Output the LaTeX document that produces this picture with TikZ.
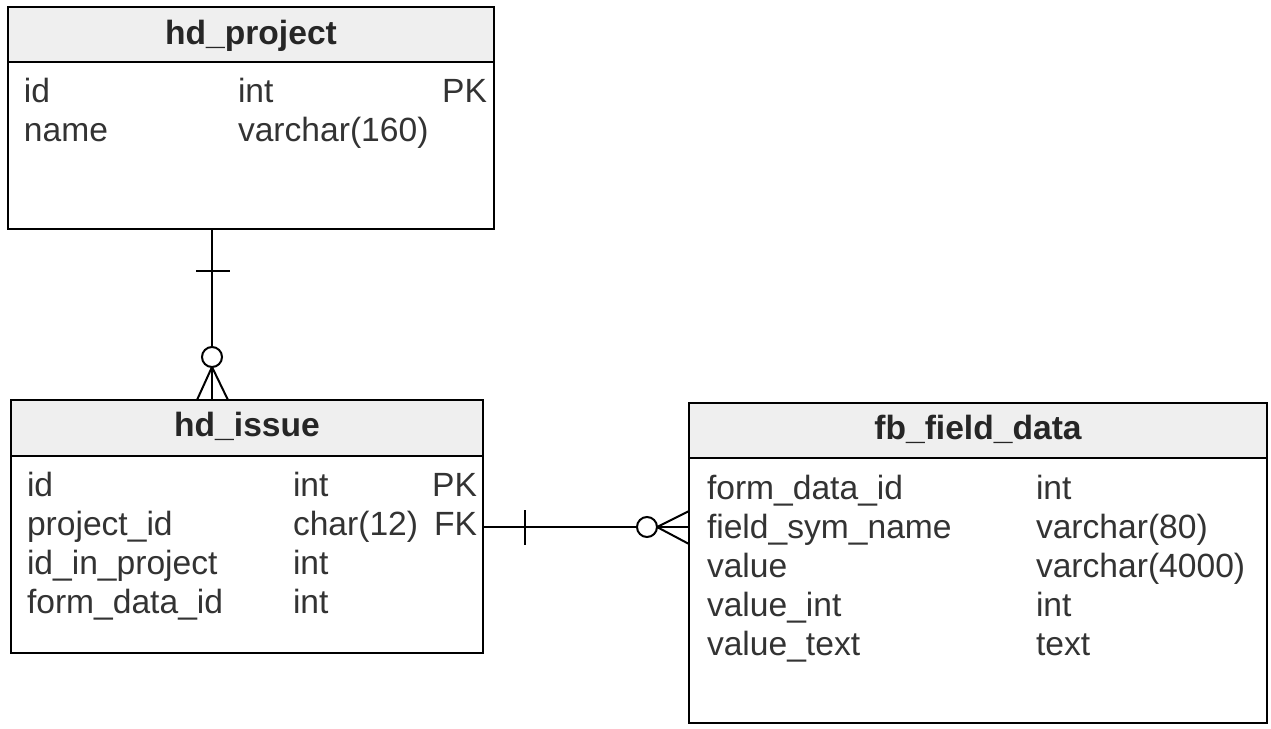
\documentclass[tikz,border=0pt]{standalone}
\usepackage{fontspec}
\setmainfont{Liberation Sans}
\usetikzlibrary{calc}
\definecolor{hdgray}{HTML}{EFEFEF}
\definecolor{txtgray}{HTML}{333333}
\newcommand{\tabfont}{\fontsize{16.8}{20}\selectfont}

\begin{document}
\begin{tikzpicture}[x = 0.5pt, y = -0.5pt, line width = 1pt,
  tbl/.style = {draw, anchor = north west, inner sep = 0pt, outer sep = 0pt},
  hdr/.style = {font = \tabfont\bfseries, text = black!85, anchor = base, inner sep = 0pt},
  fld/.style = {font = \tabfont, text = txtgray, anchor = base west, inner sep = 0pt},
  key/.style = {font = \tabfont, text = txtgray, anchor = base east, inner sep = 0pt}]

\useasboundingbox (0,0) rectangle (1271,729);

% hd_project
\node[tbl, minimum width = 243pt, minimum height = 111pt] (proj) at (8,7) {};
\draw[fill = hdgray] (proj.north west) rectangle ($(proj.north east)+(0,55)$);
\node[hdr] (projT) at (251,44) {hd\_project};
\foreach \n/\t [count = \i] in {id/int, name/varchar(160)} {
  \node[fld] (proj-n\i) at (23,63+39*\i) {\n};
  \node[fld] (proj-t\i) at (237,63+39*\i) {\t};
}
\node[key] (proj-k1) at (488,102) {PK};

% hd_issue
\node[tbl, minimum width = 236pt, minimum height = 126.5pt] (issue) at (11,400) {};
\draw[fill = hdgray] (issue.north west) rectangle ($(issue.north east)+(0,56)$);
\node[hdr] (issueT) at (247,436) {hd\_issue};
\foreach \n/\t [count = \i] in {id/int, project\_id/char(12), id\_in\_project/int, form\_data\_id/int} {
  \node[fld] (issue-n\i) at (26,457+39*\i) {\n};
  \node[fld] (issue-t\i) at (292,457+39*\i) {\t};
}
\node[key] (issue-k1) at (478,496) {PK};
\node[key] (issue-k2) at (478,535) {FK};

% fb_field_data
\node[tbl, minimum width = 289pt, minimum height = 160pt] (fb) at (689,403) {};
\draw[fill = hdgray] (fb.north west) rectangle ($(fb.north east)+(0,55)$);
\node[hdr] (fbT) at (978,439) {fb\_field\_data};
\foreach \n/\t [count = \i] in {form\_data\_id/int, field\_sym\_name/varchar(80), value/varchar(4000), value\_int/int, value\_text/text} {
  \node[fld] (fb-n\i) at (706,460+39*\i) {\n};
  \node[fld] (fb-t\i) at (1035,460+39*\i) {\t};
}

% hd_project -> hd_issue
\coordinate (r1a) at ($(proj.south west)+(204,0)$);
\coordinate (r1b) at ($(issue.north west)+(201,0)$);
\draw (r1a) -- (r1b);
\draw ($(r1a)+(-16,42)$) -- ($(r1a)+(18,42)$);
\draw ($(r1b)+(0,-33)$) -- ($(r1b)+(-15,0)$);
\draw ($(r1b)+(0,-33)$) -- ($(r1b)+(16,0)$);
\draw[fill = white] ($(r1b)+(0,-43)$) circle (5pt);

% hd_issue -> fb_field_data
\coordinate (r2a) at ($(issue.north east)+(0,127)$);
\coordinate (r2b) at ($(fb.north west)+(0,124)$);
\draw (r2a) -- (r2b);
\draw ($(r2a)+(42,-17)$) -- ($(r2a)+(42,18)$);
\draw ($(r2b)+(-32,0)$) -- ($(r2b)+(0,-16)$);
\draw ($(r2b)+(-32,0)$) -- ($(r2b)+(0,17)$);
\draw[fill = white] ($(r2b)+(-42,0)$) circle (5pt);

\end{tikzpicture}
\end{document}
